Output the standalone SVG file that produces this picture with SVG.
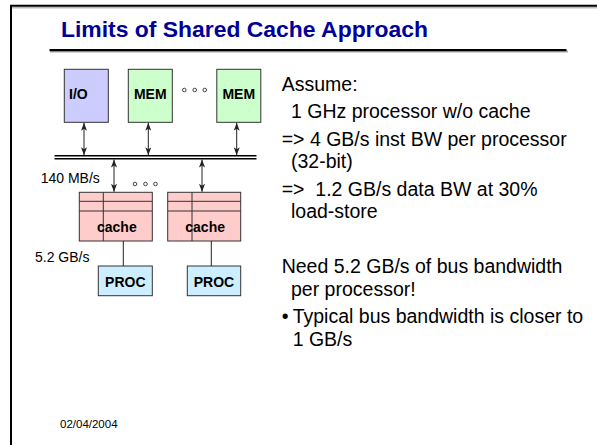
<svg xmlns="http://www.w3.org/2000/svg" width="597" height="445" viewBox="0 0 597 445">
  <style>
    .frame { fill: none; stroke: #000; stroke-width: 2; }
    .box { stroke: #333; stroke-width: 1; }
    .io { fill: #ccccff; }
    .mem { fill: #ccffcc; }
    .cache { fill: #ffcccc; }
    .proc { fill: #cceeff; }
    .grid { stroke: #333; stroke-width: 1; fill: none; }
    .lbl { font-family: "Liberation Sans", Arial, sans-serif; font-weight: bold; font-size: 14px; fill: #000; }
    .small { font-family: "Liberation Sans", Arial, sans-serif; font-size: 14px; fill: #000; }
    .body { font-family: "Liberation Sans", Arial, sans-serif; font-size: 19.5px; fill: #000; white-space: pre; }
    .title { font-family: "Liberation Sans", Arial, sans-serif; font-weight: bold; font-size: 22.5px; fill: #000099; }
    .date { font-family: "Liberation Sans", Arial, sans-serif; font-size: 11.5px; fill: #000; }
    .link { stroke: #222; stroke-width: 1; fill: none; }
    .arrow { stroke: #222; stroke-width: 1; fill: none; marker-start: url(#head); marker-end: url(#head); }
    .bus { stroke: #000; stroke-width: 1.4; }
    .dot { fill: none; stroke: #444; stroke-width: 1; }
  </style>
  <defs>
    <marker id="head" viewBox="0 0 8 6" refX="8" refY="3" markerWidth="8" markerHeight="6" markerUnits="userSpaceOnUse" orient="auto-start-reverse">
      <path d="M0,0 L8,3 L0,6 L2,3 z" fill="#222"/>
    </marker>
  </defs>

  <!-- slide frame and title -->
  <rect x="12" y="7" width="585" height="1.5" fill="#bbb"/>
  <path class="frame" d="M11,445 V5.7 H597"/>
  <text class="title" x="61" y="37.3" textLength="367" lengthAdjust="spacingAndGlyphs">Limits of Shared Cache Approach</text>
  <rect x="50" y="50.5" width="518" height="2" fill="#aaa"/>
  <rect x="49.5" y="49" width="517" height="2.2" fill="#000"/>

  <!-- top row: I/O and memory modules -->
  <g id="io">
    <rect class="box io" x="64.3" y="69.3" width="44" height="53"/>
    <text class="lbl" x="69" y="99.3">I/O</text>
  </g>
  <g id="mem1">
    <rect class="box mem" x="128.3" y="69.3" width="44" height="53"/>
    <text class="lbl" x="150.3" y="99.3" text-anchor="middle">MEM</text>
  </g>
  <g id="mem-dots">
    <circle class="dot" cx="184.3" cy="90" r="1.8"/>
    <circle class="dot" cx="194.7" cy="90" r="1.8"/>
    <circle class="dot" cx="204.7" cy="90" r="1.8"/>
  </g>
  <g id="mem2">
    <rect class="box mem" x="216.8" y="69.3" width="44" height="53"/>
    <text class="lbl" x="238.8" y="99.3" text-anchor="middle">MEM</text>
  </g>

  <!-- shared bus -->
  <g id="bus">
    <line class="bus" x1="54.5" y1="155.8" x2="256.5" y2="155.8"/>
    <line class="bus" x1="54.5" y1="158.8" x2="256.5" y2="158.8"/>
  </g>

  <!-- processor 1 with its cache -->
  <g id="cache1">
    <rect class="box cache" x="79.3" y="192.3" width="73" height="48.7"/>
    <path class="grid" d="M79.3,201.3 H152.3 M79.3,211 H152.3 M103.3,192.3 V241"/>
    <text class="lbl" x="97" y="231.7" font-size="14.5">cache</text>
  </g>
  <g id="proc1">
    <rect class="box proc" x="98.3" y="266" width="54" height="29.7"/>
    <text class="lbl" x="125.3" y="286.7" text-anchor="middle">PROC</text>
  </g>

  <!-- processor 2 with its cache -->
  <g id="cache2">
    <rect class="box cache" x="167.7" y="192.3" width="73" height="48.7"/>
    <path class="grid" d="M167.7,201.3 H240.7 M167.7,211 H240.7 M192,192.3 V241"/>
    <text class="lbl" x="185.3" y="231.7" font-size="14.5">cache</text>
  </g>
  <g id="proc2">
    <rect class="box proc" x="187.3" y="266" width="53.4" height="29.7"/>
    <text class="lbl" x="214" y="286.7" text-anchor="middle">PROC</text>
  </g>

  <g id="cache-dots">
    <circle class="dot" cx="135" cy="184" r="1.8"/>
    <circle class="dot" cx="145.5" cy="184" r="1.8"/>
    <circle class="dot" cx="155.5" cy="184" r="1.8"/>
  </g>

  <!-- connectors -->
  <g id="connectors">
    <line class="arrow" x1="84" y1="122.8" x2="84" y2="155.2"/>
    <line class="arrow" x1="148.3" y1="122.8" x2="148.3" y2="155.2"/>
    <line class="arrow" x1="236.7" y1="122.8" x2="236.7" y2="155.2"/>
    <line class="arrow" x1="114" y1="159.5" x2="114" y2="191.8"/>
    <line class="arrow" x1="202" y1="159.5" x2="202" y2="191.8"/>
    <line class="link" x1="123.3" y1="241" x2="123.3" y2="266"/>
    <line class="link" x1="211.3" y1="241" x2="211.3" y2="266"/>
  </g>

  <!-- bandwidth labels -->
  <text class="small" x="40.7" y="182.7">140 MB/s</text>
  <text class="small" x="35" y="261.7" font-size="14.5">5.2 GB/s</text>

  <!-- slide body text -->
  <g id="notes">
    <text class="body" x="281.7" y="90.5">Assume:</text>
    <text class="body" x="291" y="118">1 GHz processor w/o cache</text>
    <text class="body" x="281.7" y="145.5">=&gt; 4 GB/s inst BW per processor</text>
    <text class="body" x="291" y="168">(32-bit)</text>
    <text class="body" x="281.7" y="195.5">=&gt;  1.2 GB/s data BW at 30%</text>
    <text class="body" x="291" y="218">load-store</text>
    <text class="body" x="281.7" y="273">Need 5.2 GB/s of bus bandwidth</text>
    <text class="body" x="291" y="295.5">per processor!</text>
    <text class="body" x="281.7" y="323">•</text>
    <text class="body" x="292.7" y="323">Typical bus bandwidth is closer to</text>
    <text class="body" x="292.7" y="345.5">1 GB/s</text>
  </g>

  <text class="date" x="60" y="427.7">02/04/2004</text>
</svg>
